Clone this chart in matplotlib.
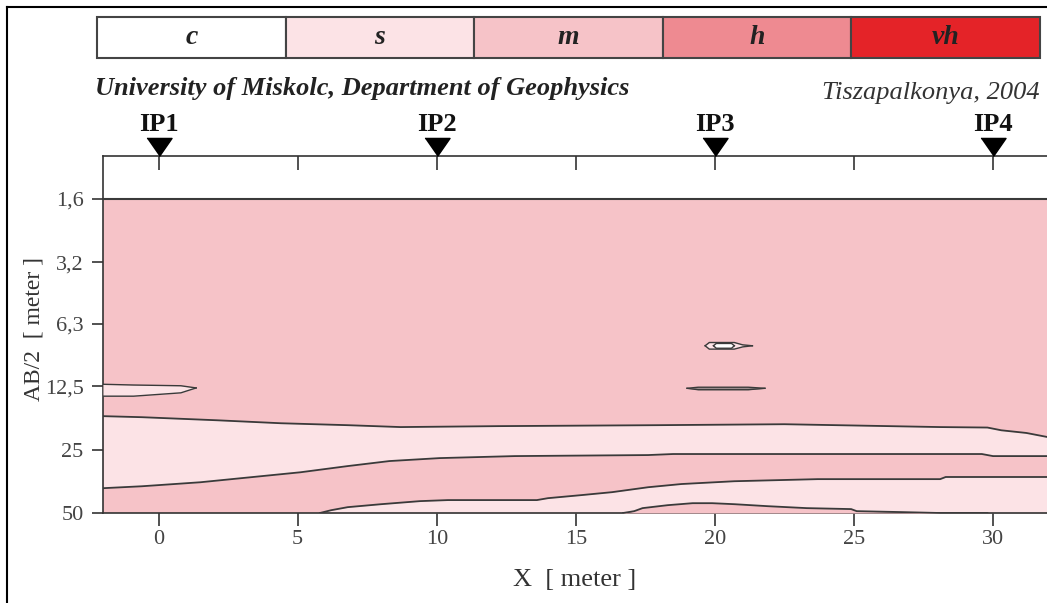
import numpy as np
import matplotlib
matplotlib.use("Agg")
import matplotlib.pyplot as plt
from matplotlib.patches import Rectangle

# ---------------- data ----------------
categories = ["c", "s", "m", "h", "vh"]
cat_colors = ["#ffffff", "#fce3e6", "#f6c3c8", "#ee8a91", "#e42328"]

x_ticks = [0, 5, 10, 15, 20, 25, 30]
y_ticks = [1.6, 3.2, 6.3, 12.5, 25, 50]
y_tick_labels = ["1,6", "3,2", "6,3", "12,5", "25", "50"]

ip_names = ["IP1", "IP2", "IP3", "IP4"]
ip_x = [0, 10, 20, 30]

x_min, x_max = -2, 32
ab_min, ab_max = 1.6, 50

# boundary: upper edge of the shallow "s" band (m above)
b1_x = [-2, -0.6, 2.1, 4.4, 6.8, 8.7, 12.2, 17.9, 22.5, 28.1, 29.8, 30.3, 31.2, 32]
b1_y = [17.3, 17.5, 18.1, 18.7, 19.1, 19.5, 19.3, 19.1, 18.9, 19.5, 19.6, 20.2, 20.8, 21.8]

# boundary: lower edge of the "s" band (m below)
b2_x = [-2, -0.6, 1.5, 3.3, 5.1, 6.8, 8.3, 10.1, 12.8, 17.6, 18.5, 29.6, 30.0, 32]
b2_y = [38.1, 37.3, 35.7, 33.8, 32.0, 29.9, 28.3, 27.4, 26.8, 26.5, 26.2, 26.2, 26.8, 26.8]

# boundary: top of the deep "s" body (m above)
b3_x = [5.8, 6.2, 6.8, 8.0, 9.4, 10.4, 13.6, 14.0, 15.2, 16.3, 17.6, 18.8, 20.7, 23.7, 28.1, 28.3, 32]
b3_y = [50, 48.5, 46.9, 45.4, 43.9, 43.4, 43.4, 42.5, 41.1, 39.8, 37.7, 36.4, 35.3, 34.5, 34.5, 33.7, 33.7]

# boundary: top of the deep "m" lens (s above)
b4_x = [16.7, 17.1, 17.4, 18.3, 19.2, 19.9, 20.7, 21.9, 23.3, 24.9, 25.1, 26.7, 28.1, 29.8]
b4_y = [50, 49.0, 47.4, 45.9, 44.9, 44.9, 45.4, 46.4, 47.4, 47.9, 49.0, 49.5, 50, 50]

# small "s" wedge at the left edge
w1_x = [-2, -0.9, 0.8, 1.35]
w1_top = [12.2, 12.3, 12.4, 12.7]
w1_bot = [13.9, 13.9, 13.4, 12.7]

# small lenses near IP3
l1_x = [19.65, 19.8, 20.7, 21.0, 21.35]
l1_top = [8.0, 7.72, 7.72, 7.92, 8.0]
l1_bot = [8.0, 8.3, 8.3, 8.1, 8.0]
l2_x = [19.95, 20.05, 20.6, 20.7]
l2_top = [8.0, 7.8, 7.8, 8.0]
l2_bot = [8.0, 8.22, 8.22, 8.0]
l3_x = [19.0, 19.4, 21.2, 21.8]
l3_top = [12.75, 12.6, 12.6, 12.75]
l3_bot = [12.75, 12.95, 12.95, 12.75]

# ---------------- figure ----------------
W, H = 1047, 603
fig = plt.figure(figsize=(W / 100, H / 100), dpi=100)
plt.rcParams["font.family"] = ["Liberation Serif", "DejaVu Serif"]

def fx(px):
    return px / W

def fy(py):
    return 1 - py / H

ax_left, ax_right = 103, 1048.6
ax_top, ax_bot = 156, 513
ax = fig.add_axes([fx(ax_left), fy(ax_bot), fx(ax_right - ax_left), (ax_bot - ax_top) / H])
ax.set_yscale("log")
ax.set_xlim(x_min, x_max)
ax.set_ylim(ab_max, 1.0)

S = cat_colors[1]
M = cat_colors[2]
C = cat_colors[0]
LC = "#3a3a3a"
LW = 1.3

# base "m" field
ax.fill_between([x_min, x_max], [ab_min, ab_min], [ab_max, ab_max], color=M, lw=0, zorder=1)
# shallow s band
bx = np.union1d(b1_x, b2_x)
ax.fill_between(bx, np.interp(bx, b1_x, b1_y), np.interp(bx, b2_x, b2_y), color=S, lw=0, zorder=2)
# deep s body
ax.fill_between(b3_x, b3_y, [ab_max] * len(b3_x), color=S, lw=0, zorder=2)
# deep m lens
ax.fill_between(b4_x, b4_y, [ab_max] * len(b4_x), color=M, lw=0, zorder=3)
# small features
ax.fill_between(w1_x, w1_top, w1_bot, color=S, lw=0, zorder=3)
ax.fill_between(l1_x, l1_top, l1_bot, color=S, lw=0, zorder=3)
ax.fill_between(l2_x, l2_top, l2_bot, color=C, lw=0, zorder=4)
ax.fill_between(l3_x, l3_top, l3_bot, color="#9a8a8c", lw=0, zorder=3)

for xs, ys in [(b1_x, b1_y), (b2_x, b2_y), (b3_x, b3_y), (b4_x, b4_y)]:
    ax.plot(xs, ys, color=LC, lw=LW, zorder=5)
for xs, t, b in [(w1_x, w1_top, w1_bot), (l1_x, l1_top, l1_bot), (l2_x, l2_top, l2_bot), (l3_x, l3_top, l3_bot)]:
    ax.plot(xs, t, color=LC, lw=1.0, zorder=5)
    ax.plot(xs, b, color=LC, lw=1.0, zorder=5)
ax.plot([x_min, x_max], [ab_min, ab_min], color=LC, lw=1.5, zorder=5)

# spines / ticks
ax.spines["right"].set_visible(False)
for sp in ["left", "top", "bottom"]:
    ax.spines[sp].set_color("#333333")
    ax.spines[sp].set_linewidth(1.2)
ax.set_xticks(x_ticks)
ax.set_xticklabels([str(v) for v in x_ticks])
ax.set_yticks(y_ticks)
ax.set_yticklabels(y_tick_labels)
ax.yaxis.set_minor_locator(matplotlib.ticker.NullLocator())
ax.tick_params(axis="x", which="major", direction="out", length=9, width=1.2, color="#333333",
               labelsize=16, labelcolor="#444444", pad=3, top=True, labeltop=False)
ax.tick_params(axis="y", which="major", direction="out", length=8, width=1.2, color="#333333",
               labelsize=16, labelcolor="#444444", pad=6)
# top ticks inward
for t in ax.xaxis.get_major_ticks():
    t.tick2line.set_marker(matplotlib.lines.TICKDOWN)
    t.tick2line.set_markersize(10)

# IP markers
tri = [(-1, 1.44), (1, 1.44), (0, 0)]
ax.plot(ip_x, [1.0] * len(ip_x), transform=ax.get_xaxis_transform(), ls="none",
        marker=tri, ms=26, color="black", clip_on=False, zorder=10)
for name, xv in zip(ip_names, ip_x):
    ax.annotate(name, (xv, 1.0), xycoords=ax.get_xaxis_transform(), xytext=(0, 23),
                textcoords="offset points", ha="center", va="center", fontsize=19,
                fontweight="bold", color="#111111", annotation_clip=False)

# axis labels
fig.text(fx(575), fy(580), "X  [ meter ]", ha="center", va="center", fontsize=19, color="#333333")
fig.text(fx(34), fy(329), "AB/2  [ meter ]", ha="center", va="center", rotation=90,
         fontsize=17, color="#333333")

# header texts
fig.text(fx(95), fy(88), "University of Miskolc, Department of Geophysics", ha="left", va="center",
         fontsize=19, fontweight="bold", fontstyle="italic", color="#222222")
fig.text(fx(1040), fy(93), "Tiszapalkonya, 2004", ha="right", va="center",
         fontsize=19, fontstyle="italic", color="#333333")

# outer frame (top and left)
fig.add_artist(matplotlib.lines.Line2D([fx(7), 1.0], [fy(7), fy(7)], color="black", lw=1.5))
fig.add_artist(matplotlib.lines.Line2D([fx(7), fx(7)], [fy(7), 0.0], color="black", lw=1.5))

# category legend bar
lg_left, lg_right, lg_top, lg_bot = 97, 1040, 17, 58
cw = (lg_right - lg_left) / len(categories)
for i, (cat, col) in enumerate(zip(categories, cat_colors)):
    x0 = lg_left + i * cw
    fig.add_artist(Rectangle((fx(x0), fy(lg_bot)), fx(cw), (lg_bot - lg_top) / H,
                             facecolor=col, edgecolor="#444444", lw=1.5, transform=fig.transFigure))
    fig.text(fx(x0 + cw / 2), fy((lg_top + lg_bot) / 2), cat, ha="center", va="center",
             fontsize=20, fontweight="bold", fontstyle="italic", color="#222222")

fig.savefig("out.png", dpi=100)
